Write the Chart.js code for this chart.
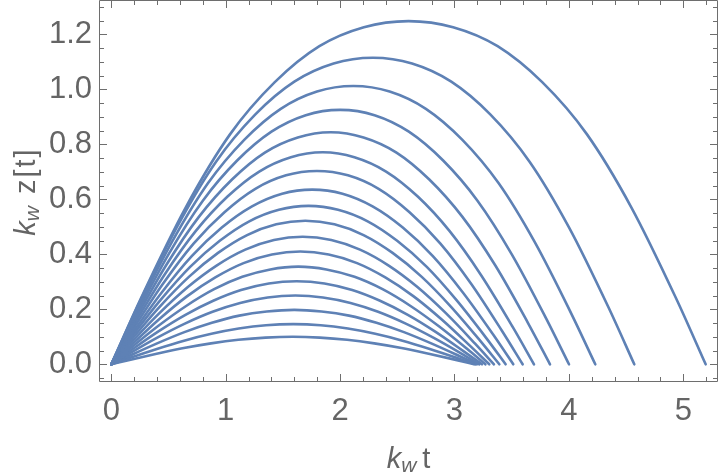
<!DOCTYPE html>
<html><head><meta charset="utf-8">
<script src="https://cdn.jsdelivr.net/npm/chart.js@4.4.1/dist/chart.umd.min.js"></script>
<style>html,body{margin:0;padding:0;background:#fff}</style>
</head><body>
<canvas id="c" width="720" height="476" style="display:block;width:720px;height:476px"></canvas>
<script>
const t01 = [0, 0.260, 0.650, 1.039, 1.429, 1.819, 2.208, 2.598, 2.988, 3.377, 3.767, 4.157, 4.547, 4.936, 5.196];
const z01 = [0, 0.241, 0.570, 0.837, 1.026, 1.157, 1.226, 1.248, 1.226, 1.157, 1.026, 0.837, 0.570, 0.241, 0];
const t02 = [0, 0.229, 0.572, 0.914, 1.257, 1.600, 1.943, 2.286, 2.629, 2.972, 3.315, 3.658, 4.001, 4.343, 4.572];
const z02 = [0, 0.210, 0.498, 0.736, 0.908, 1.028, 1.094, 1.115, 1.094, 1.028, 0.908, 0.736, 0.498, 0.210, 0];
const t03 = [0, 0.212, 0.529, 0.846, 1.164, 1.481, 1.798, 2.116, 2.433, 2.750, 3.067, 3.385, 3.702, 4.019, 4.231];
const z03 = [0, 0.186, 0.444, 0.659, 0.817, 0.929, 0.992, 1.012, 0.992, 0.929, 0.817, 0.659, 0.444, 0.186, 0];
const t04 = [0, 0.200, 0.500, 0.800, 1.100, 1.400, 1.700, 2.000, 2.301, 2.601, 2.901, 3.201, 3.501, 3.801, 4.001];
const z04 = [0, 0.167, 0.400, 0.595, 0.741, 0.846, 0.906, 0.925, 0.906, 0.846, 0.741, 0.595, 0.400, 0.167, 0];
const t05 = [0, 0.192, 0.479, 0.767, 1.055, 1.342, 1.630, 1.918, 2.205, 2.493, 2.780, 3.068, 3.356, 3.643, 3.835];
const z05 = [0, 0.150, 0.360, 0.537, 0.672, 0.770, 0.825, 0.844, 0.825, 0.770, 0.672, 0.537, 0.360, 0.150, 0];
const t06 = [0, 0.185, 0.462, 0.739, 1.016, 1.293, 1.570, 1.848, 2.125, 2.402, 2.679, 2.956, 3.233, 3.510, 3.695];
const z06 = [0, 0.135, 0.324, 0.485, 0.610, 0.701, 0.753, 0.771, 0.753, 0.701, 0.610, 0.485, 0.324, 0.135, 0];
const t07 = [0, 0.180, 0.450, 0.719, 0.989, 1.259, 1.528, 1.798, 2.068, 2.337, 2.607, 2.877, 3.147, 3.416, 3.596];
const z07 = [0, 0.121, 0.292, 0.439, 0.553, 0.638, 0.687, 0.703, 0.687, 0.638, 0.553, 0.439, 0.292, 0.121, 0];
const t08 = [0, 0.176, 0.439, 0.703, 0.966, 1.230, 1.493, 1.757, 2.021, 2.284, 2.548, 2.811, 3.075, 3.338, 3.514];
const z08 = [0, 0.108, 0.260, 0.393, 0.497, 0.574, 0.620, 0.635, 0.620, 0.574, 0.497, 0.393, 0.260, 0.108, 0];
const t09 = [0, 0.172, 0.431, 0.689, 0.948, 1.206, 1.465, 1.724, 1.982, 2.241, 2.499, 2.758, 3.016, 3.275, 3.447];
const z09 = [0, 0.097, 0.234, 0.354, 0.449, 0.520, 0.562, 0.576, 0.562, 0.520, 0.449, 0.354, 0.234, 0.097, 0];
const t10 = [0, 0.170, 0.424, 0.678, 0.933, 1.187, 1.442, 1.696, 1.950, 2.205, 2.459, 2.714, 2.968, 3.222, 3.392];
const z10 = [0, 0.087, 0.210, 0.318, 0.405, 0.470, 0.509, 0.522, 0.509, 0.470, 0.405, 0.318, 0.210, 0.087, 0];
const t11 = [0, 0.167, 0.418, 0.669, 0.920, 1.171, 1.422, 1.673, 1.923, 2.174, 2.425, 2.676, 2.927, 3.178, 3.345];
const z11 = [0, 0.076, 0.185, 0.281, 0.359, 0.417, 0.452, 0.464, 0.452, 0.417, 0.359, 0.281, 0.185, 0.076, 0];
const t12 = [0, 0.165, 0.413, 0.661, 0.909, 1.156, 1.404, 1.652, 1.900, 2.148, 2.395, 2.643, 2.891, 3.139, 3.304];
const z12 = [0, 0.066, 0.162, 0.247, 0.316, 0.368, 0.399, 0.410, 0.399, 0.368, 0.316, 0.247, 0.162, 0.066, 0];
const t13 = [0, 0.164, 0.409, 0.654, 0.899, 1.145, 1.390, 1.635, 1.880, 2.126, 2.371, 2.616, 2.861, 3.107, 3.270];
const z13 = [0, 0.057, 0.139, 0.212, 0.273, 0.318, 0.345, 0.355, 0.345, 0.318, 0.273, 0.212, 0.139, 0.057, 0];
const t14 = [0, 0.162, 0.405, 0.648, 0.891, 1.134, 1.377, 1.620, 1.863, 2.106, 2.349, 2.592, 2.835, 3.078, 3.240];
const z14 = [0, 0.048, 0.118, 0.180, 0.231, 0.270, 0.294, 0.302, 0.294, 0.270, 0.231, 0.180, 0.118, 0.048, 0];
const t15 = [0, 0.161, 0.402, 0.643, 0.885, 1.126, 1.367, 1.609, 1.850, 2.091, 2.332, 2.574, 2.815, 3.056, 3.217];
const z15 = [0, 0.040, 0.097, 0.148, 0.191, 0.223, 0.243, 0.250, 0.243, 0.223, 0.191, 0.148, 0.097, 0.040, 0];
const t16 = [0, 0.160, 0.400, 0.639, 0.879, 1.119, 1.359, 1.599, 1.838, 2.078, 2.318, 2.558, 2.797, 3.037, 3.197];
const z16 = [0, 0.031, 0.076, 0.117, 0.151, 0.177, 0.192, 0.198, 0.192, 0.177, 0.151, 0.117, 0.076, 0.031, 0];
const t17 = [0, 0.159, 0.398, 0.636, 0.875, 1.114, 1.352, 1.591, 1.830, 2.068, 2.307, 2.546, 2.784, 3.023, 3.182];
const z17 = [0, 0.023, 0.056, 0.086, 0.111, 0.130, 0.142, 0.146, 0.142, 0.130, 0.111, 0.086, 0.056, 0.023, 0];
const t18 = [0, 0.159, 0.396, 0.634, 0.872, 1.110, 1.348, 1.586, 1.823, 2.061, 2.299, 2.537, 2.775, 3.012, 3.171];
const z18 = [0, 0.016, 0.038, 0.059, 0.076, 0.089, 0.097, 0.100, 0.097, 0.089, 0.076, 0.059, 0.038, 0.016, 0];

const curvesT = [t01,t02,t03,t04,t05,t06,t07,t08,t09,t10,t11,t12,t13,t14,t15,t16,t17,t18];
const curvesZ = [z01,z02,z03,z04,z05,z06,z07,z08,z09,z10,z11,z12,z13,z14,z15,z16,z17,z18];

const xTickValues = [0, 1, 2, 3, 4, 5];
const yTickValues = [0, 0.2, 0.4, 0.6, 0.8, 1.0, 1.2];
const xMinorStep = 0.2;
const yMinorStep = 0.05;

const LINE_COLOR = '#5e81b5';
const FRAME_COLOR = '#6e6e6e';
const TEXT_COLOR = '#656565';
const FONT = "'Liberation Sans', Arial, sans-serif";

const datasets = curvesT.map((ts, i) => ({
  data: ts.map((t, j) => ({x: t, y: curvesZ[i][j]})),
  borderColor: LINE_COLOR,
  borderWidth: 2.6,
  pointRadius: 0,
  fill: false,
  cubicInterpolationMode: 'monotone',
  borderCapStyle: 'round',
  borderJoinStyle: 'round'
}));

function drawRich(ctx, parts, x, y) {
  let total = 0;
  parts.forEach(p => {
    ctx.font = p.font;
    ctx.letterSpacing = p.ls || '0px';
    p.w = ctx.measureText(p.t).width;
    total += p.w + (p.gap || 0);
  });
  let cx = x - total / 2;
  parts.forEach(p => {
    ctx.font = p.font;
    ctx.letterSpacing = p.ls || '0px';
    ctx.fillText(p.t, cx, y + (p.dy || 0));
    cx += p.w + (p.gap || 0);
  });
  ctx.letterSpacing = '0px';
}

const framePlugin = {
  id: 'frame',
  afterDatasetsDraw(chart) {
    const ctx = chart.ctx, a = chart.chartArea;
    const xs = chart.scales.x, ys = chart.scales.y;
    const L = Math.round(a.left) - 0.5, R = Math.round(a.right) + 0.5;
    const T = Math.round(a.top) - 0.5, B = Math.round(a.bottom) - 0.5;
    ctx.save();
    ctx.strokeStyle = FRAME_COLOR;
    ctx.lineWidth = 1;
    ctx.beginPath();
    ctx.rect(L, T, R - L, B - T);
    ctx.stroke();
    ctx.beginPath();
    const major = 7.5, minor = 4.5;
    for (let k = Math.ceil(xs.min / xMinorStep); k * xMinorStep <= xs.max + 1e-9; k++) {
      const v = k * xMinorStep;
      const isMajor = Math.abs(v - Math.round(v)) < 1e-6;
      const px = Math.round(xs.getPixelForValue(v)) + 0.5;
      const len = isMajor ? major : minor;
      ctx.moveTo(px, B); ctx.lineTo(px, B - len);
      ctx.moveTo(px, T); ctx.lineTo(px, T + len);
    }
    for (let k = Math.ceil(ys.min / yMinorStep); k * yMinorStep <= ys.max + 1e-9; k++) {
      const v = k * yMinorStep;
      const isMajor = Math.abs(v * 5 - Math.round(v * 5)) < 1e-6;
      const py = Math.round(ys.getPixelForValue(v)) + 0.5;
      const len = isMajor ? major : minor;
      ctx.moveTo(L, py); ctx.lineTo(L + len, py);
      ctx.moveTo(R, py); ctx.lineTo(R - len, py);
    }
    ctx.stroke();
    ctx.restore();
  },
  afterDraw(chart) {
    const ctx = chart.ctx, a = chart.chartArea;
    ctx.save();
    ctx.fillStyle = TEXT_COLOR;
    ctx.textBaseline = 'alphabetic';
    ctx.textAlign = 'left';
    const cx = (a.left + a.right) / 2;
    drawRich(ctx, [
      {t: 'k', font: 'italic 29px ' + FONT},
      {t: 'w', font: 'italic 21px ' + FONT, dy: 4, gap: 6},
      {t: 't', font: '29px ' + FONT}
    ], cx, 468);
    ctx.translate(35, (a.top + a.bottom) / 2);
    ctx.rotate(-Math.PI / 2);
    drawRich(ctx, [
      {t: 'k', font: 'italic 29px ' + FONT},
      {t: 'w', font: 'italic 21px ' + FONT, dy: 4, gap: 12},
      {t: 'z[t]', font: '29px ' + FONT, ls: '2px'}
    ], 0, 0);
    ctx.restore();
  }
};

function noPad(s) {
  s.paddingTop = 0; s.paddingBottom = 0; s.paddingLeft = 0; s.paddingRight = 0;
}

new Chart(document.getElementById('c'), {
  type: 'line',
  data: {datasets},
  options: {
    responsive: false,
    animation: false,
    events: [],
    layout: {padding: {top: 1, right: 3, left: 0, bottom: 0}},
    plugins: {legend: {display: false}, tooltip: {enabled: false}},
    scales: {
      x: {
        type: 'linear', min: -0.099, max: 5.295,
        grid: {display: false, drawTicks: false}, border: {display: false},
        afterBuildTicks: s => { s.ticks = xTickValues.map(v => ({value: v})); },
        afterFit: s => { s.height = 94; noPad(s); },
        ticks: {padding: 11, color: TEXT_COLOR, font: {family: FONT, size: 31}, autoSkip: false, maxRotation: 0,
                callback: v => String(v)}
      },
      y: {
        type: 'linear', min: -0.0644, max: 1.3211,
        grid: {display: false, drawTicks: false}, border: {display: false},
        afterBuildTicks: s => { s.ticks = yTickValues.map(v => ({value: v})); },
        afterFit: s => { s.width = 100; noPad(s); },
        ticks: {padding: 8, color: TEXT_COLOR, font: {family: FONT, size: 31}, autoSkip: false,
                callback: v => Number(v).toFixed(1)}
      }
    }
  },
  plugins: [framePlugin]
});
</script>
</body></html>
